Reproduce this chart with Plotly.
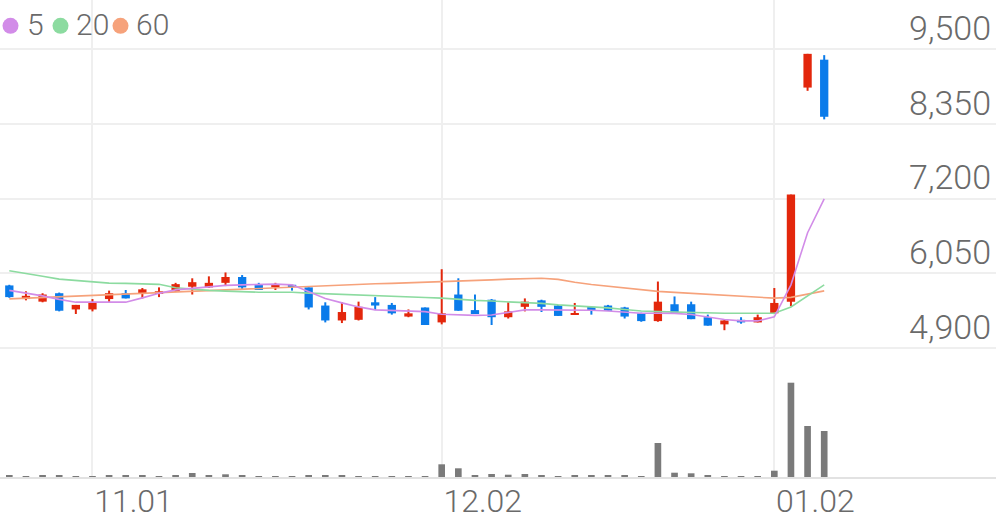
import plotly.graph_objects as go

# ---------------- data ----------------
idx = list(range(50))
tick_pos = [5, 26, 46]
tick_text = ["11.01", "12.02", "01.02"]

opens = [5860, 5650, 5610, 5740, 5490, 5490, 5650, 5740, 5730, 5740,
         5770, 5840, 5830, 5900, 5990, 5870, 5830, 5870, 5830, 5550,
         5320, 5330, 5600, 5560, 5380, 5520, 5290, 5720, 5480, 5640,
         5370, 5530, 5630, 5550, 5410, 5530, 5550, 5520, 5430, 5310,
         5570, 5570, 5370, 5260, 5330, 5290, 5430, 5610, 8910, 9340]
highs = [5870, 5770, 5740, 5750, 5560, 5650, 5780, 5790, 5820, 5830,
         5900, 5970, 6000, 6060, 6020, 5900, 5900, 5870, 5830, 5600,
         5600, 5610, 5680, 5590, 5490, 5520, 6110, 5970, 5720, 5650,
         5600, 5660, 5640, 5560, 5590, 5530, 5560, 5530, 5440, 5920,
         5690, 5610, 5410, 5330, 5370, 5410, 5820, 7260, 9430, 9410]
lows = [5670, 5630, 5600, 5460, 5420, 5460, 5600, 5660, 5660, 5680,
        5760, 5720, 5820, 5850, 5790, 5790, 5790, 5780, 5490, 5290,
        5280, 5320, 5480, 5410, 5370, 5250, 5260, 5470, 5420, 5250,
        5350, 5460, 5450, 5390, 5410, 5410, 5470, 5350, 5300, 5300,
        5420, 5340, 5240, 5170, 5270, 5290, 5420, 5540, 8860, 8420]
closes = [5680, 5700, 5720, 5470, 5560, 5590, 5740, 5660, 5800, 5770,
          5880, 5910, 5900, 5990, 5830, 5790, 5870, 5840, 5520, 5320,
          5450, 5530, 5550, 5430, 5430, 5250, 5430, 5470, 5420, 5370,
          5460, 5610, 5530, 5390, 5430, 5470, 5470, 5380, 5310, 5610,
          5430, 5340, 5240, 5320, 5290, 5370, 5590, 7260, 9430, 8460]
volumes = [20, 10, 17, 20, 10, 7, 20, 17, 13, 10,
           20, 40, 17, 27, 13, 10, 10, 10, 17, 13,
           13, 10, 10, 10, 10, 10, 127, 87, 20, 30,
           23, 30, 13, 10, 17, 13, 17, 13, 10, 340,
           43, 37, 17, 10, 10, 10, 63, 943, 510, 460]
ma5 = [5784, 5745, 5699, 5645, 5602, 5602, 5602, 5602, 5668, 5738,
       5792, 5818, 5846, 5861, 5869, 5877, 5880, 5869, 5761, 5660,
       5591, 5529, 5483, 5475, 5467, 5456, 5416, 5405, 5398, 5405,
       5444, 5483, 5483, 5483, 5483, 5478, 5467, 5452, 5432, 5432,
       5429, 5413, 5370, 5336, 5313, 5313, 5375, 5869, 6673, 7194]
ma20 = [6086, 6047, 6001, 5957, 5939, 5916, 5895, 5891, 5885, 5877,
        5823, 5800, 5784, 5772, 5761, 5756, 5756, 5756, 5741, 5730,
        5718, 5710, 5699, 5691, 5684, 5674, 5664, 5645, 5630, 5619,
        5606, 5602, 5583, 5560, 5548, 5534, 5514, 5490, 5467, 5456,
        5449, 5439, 5432, 5432, 5432, 5432, 5432, 5529, 5699, 5869]
ma60 = [5653, 5664, 5674, 5685, 5696, 5707, 5718, 5730, 5741, 5752,
        5761, 5770, 5780, 5789, 5800, 5815, 5827, 5838, 5849, 5861,
        5869, 5878, 5886, 5892, 5900, 5906, 5912, 5920, 5931, 5946,
        5957, 5965, 5971, 5954, 5908, 5874, 5848, 5823, 5792, 5769,
        5753, 5738, 5715, 5699, 5684, 5671, 5664, 5676, 5730, 5776]
price_ticks = [4900, 6050, 7200, 8350, 9500]
legend_labels = ["5", "20", "60"]

# ---------------- styles ----------------
UP = "#e3270c"
DOWN = "#0a7bea"
VOL = "#7a7a7a"
C5, C20, C60 = "#d28ce8", "#8cdba0", "#f6a27b"
TXT = "#6a6a6a"
GRID = "#efefef"
FONT = "Roboto"

W, H = 996, 519
B = 42
PH = H - B  # plot height in px

fig = go.Figure()

# wicks
for is_up, col in [(True, UP), (False, DOWN)]:
    wx, wy = [], []
    for i in idx:
        if (closes[i] >= opens[i]) == is_up:
            wx += [i, i, None]
            wy += [lows[i], highs[i], None]
    fig.add_trace(go.Scatter(x=wx, y=wy, mode="lines", line=dict(color=col, width=2),
                             hoverinfo="skip", showlegend=False))

# bodies
base = [min(o, c) for o, c in zip(opens, closes)]
body = [max(abs(c - o), 22) for o, c in zip(opens, closes)]
colors = [UP if c >= o else DOWN for o, c in zip(opens, closes)]
fig.add_trace(go.Bar(x=idx, y=body, base=base, width=0.5, marker=dict(color=colors, line=dict(width=0)),
                     showlegend=False))

# moving averages
for vals, col in [(ma60, C60), (ma20, C20), (ma5, C5)]:
    fig.add_trace(go.Scatter(x=idx, y=vals, mode="lines", line=dict(color=col, width=1.6),
                             showlegend=False, hoverinfo="skip"))

# volume
fig.add_trace(go.Bar(x=idx, y=volumes, width=0.4, marker=dict(color=VOL, line=dict(width=0)),
                     yaxis="y2", showlegend=False))

# legend (circles + labels)
leg_circ_cx = [10.5, 60.5, 120.5]
leg_text_x = [25, 74, 134]
shapes = []
annotations = []
for cx, tx, col, lab in zip(leg_circ_cx, leg_text_x, [C5, C20, C60], legend_labels):
    shapes.append(dict(type="circle", xref="paper", yref="paper",
                       x0=(cx - 8) / W, x1=(cx + 8) / W,
                       y0=(PH - 33.8) / PH, y1=(PH - 17.8) / PH,
                       fillcolor=col, line=dict(width=0)))
    annotations.append(dict(text=lab, xref="paper", yref="paper", x=tx / W, y=(PH - 24.5) / PH,
                            xanchor="left", yanchor="middle", showarrow=False,
                            font=dict(family=FONT, size=30, color=TXT, weight=300)))

fig.update_layout(
    width=W, height=H,
    margin=dict(l=0, r=0, t=0, b=B, autoexpand=False),
    paper_bgcolor="white", plot_bgcolor="white",
    barmode="overlay",
    showlegend=False,
    shapes=shapes,
    annotations=annotations,
    xaxis=dict(range=[-0.56, 59.33], tickmode="array", tickvals=tick_pos, ticktext=tick_text,
               automargin=False,
               showgrid=True, gridcolor=GRID, gridwidth=2, zeroline=False,
               showline=True, linecolor="#e2e2e2", linewidth=2,
               ticks="", ticklabelshift=41, ticklabelstandoff=-5,
               tickfont=dict(family=FONT, size=32, color=TXT, weight=300)),
    yaxis=dict(range=[2907, 10260], side="right", tickmode="array", tickvals=price_ticks,
               automargin=False,
               tickformat=",d", ticklabelposition="inside", ticklabelshift=-21, ticklabelstandoff=2,
               showgrid=True, gridcolor=GRID, gridwidth=2, zeroline=False, showline=False, ticks="",
               tickfont=dict(family=FONT, size=34, color=TXT, weight=300)),
    yaxis2=dict(range=[0, 4770], overlaying="y", visible=False, showgrid=False, automargin=False),
)

fig.write_html("out.html", config={"displayModeBar": False},
               post_script="document.body.style.margin='0';document.body.style.overflow='hidden';")
